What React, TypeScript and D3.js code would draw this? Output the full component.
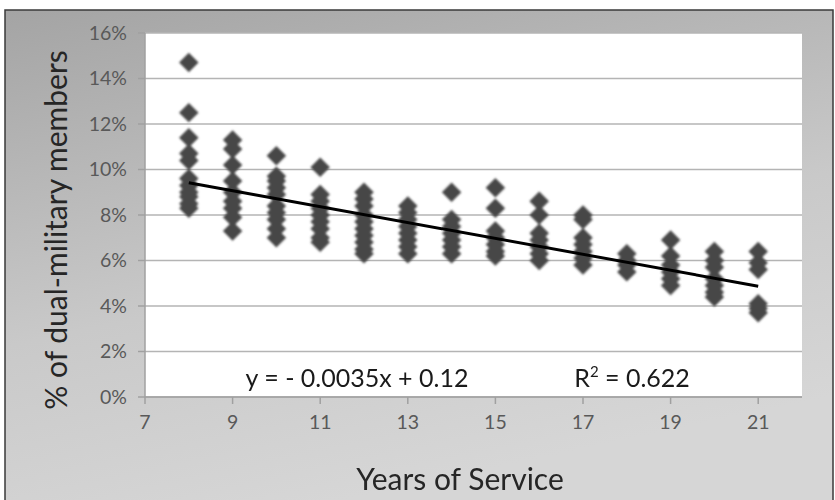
import * as d3 from "d3";

// years of service on the x axis
const years = [8, 9, 10, 11, 12, 13, 14, 15, 16, 17, 18, 19, 20, 21];

// % of dual-military members for each year
const pctByYear: number[][] = [
  [14.7, 12.5, 11.4, 10.7, 10.4, 9.6, 9.3, 9.0, 8.8, 8.5, 8.3],
  [11.3, 10.9, 10.2, 9.5, 9.0, 8.6, 8.3, 7.9, 7.3],
  [10.6, 9.7, 9.5, 9.2, 8.9, 8.4, 8.1, 7.8, 7.4, 7.0],
  [10.1, 8.9, 8.6, 8.3, 8.0, 7.7, 7.4, 7.0, 6.8],
  [9.0, 8.7, 8.4, 8.0, 7.7, 7.4, 7.1, 6.8, 6.5, 6.3],
  [8.4, 8.1, 7.8, 7.5, 7.2, 6.9, 6.6, 6.3],
  [9.0, 7.8, 7.5, 7.2, 6.9, 6.6, 6.3],
  [9.2, 8.3, 7.3, 7.0, 6.7, 6.4, 6.2],
  [8.6, 8.0, 7.2, 6.9, 6.6, 6.3, 6.0],
  [8.0, 7.8, 7.0, 6.7, 6.4, 6.1, 5.8],
  [6.3, 6.0, 5.8, 5.5],
  [6.9, 6.2, 5.8, 5.5, 5.2, 4.9],
  [6.4, 6.0, 5.7, 5.2, 4.9, 4.6, 4.4],
  [6.4, 5.9, 5.6, 4.1, 3.9, 3.7],
];

const xTicks = [7, 9, 11, 13, 15, 17, 19, 21];
const yTicks = [0, 2, 4, 6, 8, 10, 12, 14, 16];

// linear trend (in %)
const trendSlope = -0.35;
const trendIntercept = 12.22;
const equationLabel = "y = - 0.0035x + 0.12";
const r2Value = "0.622";

const W = 835;
const H = 500;
const margin = { left: 145, right: 33, top: 33, bottom: 103 };
const font = "Lato, 'Open Sans', sans-serif";

export default function App() {
  const x = d3
    .scaleLinear()
    .domain([7, 22])
    .range([margin.left, W - margin.right]);
  const y = d3
    .scaleLinear()
    .domain([0, 16])
    .range([H - margin.bottom, margin.top]);

  const points = years.flatMap((yr, i) =>
    pctByYear[i].map((v) => ({ yr, v }))
  );
  const diamond = d3.symbol(d3.symbolSquare, 190)()!;

  const trendLine = d3
    .line<number>()
    .x((d) => x(d))
    .y((d) => y(trendSlope * d + trendIntercept));
  const trendPath = trendLine([years[0], years[years.length - 1]])!;

  const x0 = x(7);
  const x1 = x(22);
  const yBase = y(0);

  return (
    <svg
      width={W}
      height={H}
      style={{ position: "absolute", left: 0, top: 0 }}
      fontFamily={font}
    >
      <defs>
        <linearGradient id="bg" x1="0" y1="0" x2="0.35" y2="1">
          <stop offset="0%" stopColor="#a4a4a4" />
          <stop offset="60%" stopColor="#c9c9c9" />
          <stop offset="100%" stopColor="#d6d6d6" />
        </linearGradient>
        <filter id="soft" x="-50%" y="-50%" width="200%" height="200%">
          <feGaussianBlur stdDeviation="1" />
        </filter>
      </defs>
      <rect x={0} y={0} width={W} height={H} fill="#ffffff" />
      <rect
        x={5}
        y={10}
        width={828}
        height={500}
        fill="url(#bg)"
        stroke="#3a3a3a"
        strokeWidth={1.5}
      />
      <rect
        x={x0}
        y={y(16)}
        width={x1 - x0}
        height={yBase - y(16)}
        fill="#ffffff"
      />
      {/* gridlines */}
      {yTicks.map((t) => (
        <line
          key={"g" + t}
          x1={x0}
          x2={x1}
          y1={y(t)}
          y2={y(t)}
          stroke="#b4b4b4"
          strokeWidth={1.5}
        />
      ))}
      {/* axes */}
      <line x1={x0} x2={x0} y1={y(16)} y2={yBase} stroke="#a0a0a0" strokeWidth={1.5} />
      <line x1={x0} x2={x1} y1={yBase} y2={yBase} stroke="#a0a0a0" strokeWidth={1.5} />
      {yTicks.map((t) => (
        <g key={"yt" + t}>
          <line x1={x0 - 7} x2={x0} y1={y(t)} y2={y(t)} stroke="#a0a0a0" strokeWidth={1.5} />
          <text
            x={x0 - 18}
            y={y(t)}
            dy="0.35em"
            textAnchor="end"
            fontSize={19.5}
            fill="#595959"
          >
            {t}%
          </text>
        </g>
      ))}
      {xTicks.map((t) => (
        <g key={"xt" + t}>
          <line x1={x(t)} x2={x(t)} y1={yBase} y2={yBase + 7} stroke="#a0a0a0" strokeWidth={1.5} />
          <text
            x={x(t)}
            y={yBase + 32}
            textAnchor="middle"
            fontSize={19.5}
            fill="#595959"
          >
            {t}
          </text>
        </g>
      ))}
      {/* points */}
      <g filter="url(#soft)">
        {points.map((p, i) => (
          <path
            key={i}
            d={diamond}
            transform={`translate(${x(p.yr)},${y(p.v)}) rotate(45)`}
            fill="#474747"
          />
        ))}
      </g>
      <path d={trendPath} fill="none" stroke="#000000" strokeWidth={3} />
      {/* equation */}
      <text x={357} y={387} textAnchor="middle" fontSize={25} fill="#1a1a1a">
        {equationLabel}
      </text>
      <text x={632} y={387} textAnchor="middle" fontSize={25} fill="#1a1a1a">
        R<tspan dy={-10} fontSize={15}>2</tspan>
        <tspan dy={10}> = {r2Value}</tspan>
      </text>
      {/* axis titles */}
      <text
        x={460}
        y={490}
        textAnchor="middle"
        fontSize={30}
        fill="#262626"
      >
        Years of Service
      </text>
      <text
        transform={`translate(67,230) rotate(-90)`}
        textAnchor="middle"
        fontSize={30}
        fill="#262626"
      >
        % of dual-military members
      </text>
    </svg>
  );
}
